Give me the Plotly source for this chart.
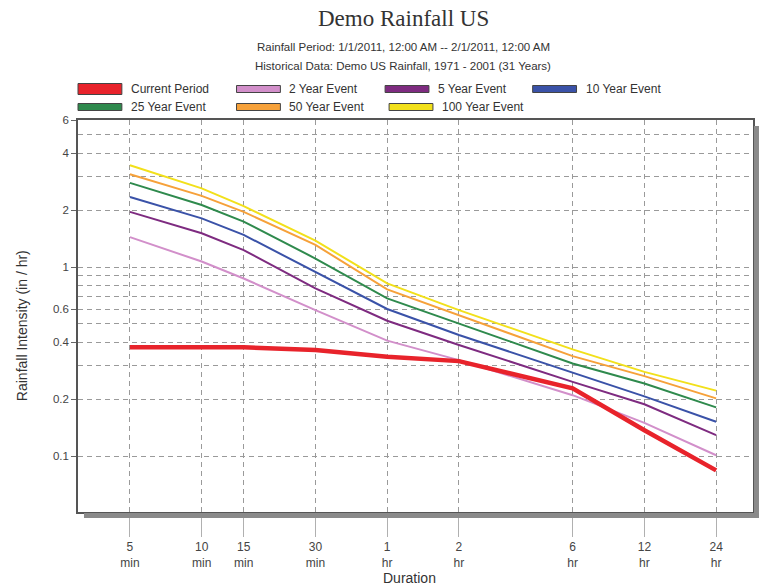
import math
import plotly.graph_objects as go

# ---- data ----
durations_min = [5, 10, 15, 30, 60, 120, 360, 720, 1440]
duration_labels = ["5<br>min", "10<br>min", "15<br>min", "30<br>min", "1<br>hr",
                   "2<br>hr", "6<br>hr", "12<br>hr", "24<br>hr"]

series_names = ["Current Period", "2 Year Event", "5 Year Event", "10 Year Event",
                "25 Year Event", "50 Year Event", "100 Year Event"]

current_period = [0.376, 0.378, 0.376, 0.364, 0.335, 0.318, 0.228, 0.137, 0.084]
year_2 = [1.44, 1.07, 0.87, 0.592, 0.408, 0.322, 0.21, 0.150, 0.101]
year_5 = [1.96, 1.51, 1.23, 0.771, 0.52, 0.387, 0.247, 0.188, 0.129]
year_10 = [2.35, 1.81, 1.48, 0.945, 0.60, 0.437, 0.276, 0.207, 0.152]
year_25 = [2.79, 2.13, 1.74, 1.11, 0.683, 0.503, 0.309, 0.242, 0.181]
year_50 = [3.10, 2.38, 1.96, 1.31, 0.762, 0.557, 0.338, 0.265, 0.202]
year_100 = [3.46, 2.61, 2.10, 1.38, 0.82, 0.592, 0.367, 0.279, 0.222]

y_tick_vals = [0.1, 0.2, 0.4, 0.6, 1, 2, 4, 6]
y_minor_grid = [0.3, 0.5, 0.7, 0.8, 0.9, 3, 5]

# ---- styles ----
colors = ["#E8232B", "#D28FCA", "#7E2B80", "#3A52A8", "#2F8A4D", "#F6A13A", "#F2E01A"]
widths = [4.5, 2, 2, 2, 2, 2, 2]
values = [current_period, year_2, year_5, year_10, year_25, year_50, year_100]

W, H = 765, 585
L, R, T, B = 78, 755, 120, 512


def px_x(p):
    return (p - L) / (R - L)


def px_y(p):
    return (B - p) / (B - T)


fig = go.Figure()
# draw events first, current period on top
for i in list(range(1, 7)) + [0]:
    fig.add_trace(go.Scatter(x=durations_min, y=values[i], mode="lines", name=series_names[i],
                             line=dict(color=colors[i], width=widths[i]), showlegend=False))

grid_col = "#9a9a9a"
fig.update_xaxes(type="log", range=[0.481, 3.313], tickvals=durations_min, ticktext=duration_labels,
                 showgrid=True, gridcolor=grid_col, griddash="5px,4px", gridwidth=1,
                 ticks="outside", ticklen=23, tickcolor="#b0b0b0", tickwidth=1,
                 showline=True, linecolor="#555", linewidth=1.5, mirror=True,
                 tickfont=dict(family="Liberation Sans, Arial", size=12, color="#444"),
                 zeroline=False)
fig.update_yaxes(type="log", range=[math.log10(0.0506), math.log10(6)], tickvals=y_tick_vals,
                 ticktext=[str(v) for v in y_tick_vals],
                 showgrid=True, gridcolor=grid_col, griddash="5px,4px", gridwidth=1,
                 minor=dict(tickvals=y_minor_grid, showgrid=True, gridcolor=grid_col,
                            griddash="5px,4px", gridwidth=1, ticks=""),
                 ticks="outside", ticklen=5, tickcolor="#666",
                 showline=True, linecolor="#555", linewidth=1.5, mirror=True,
                 tickfont=dict(family="Liberation Sans, Arial", size=11.5, color="#444"),
                 zeroline=False)

shapes = []
# drop shadow
shadow = "#8a8a8a"
shapes.append(dict(type="rect", xref="paper", yref="paper", x0=px_x(R + 1), x1=px_x(R + 6),
                   y0=px_y(B + 6), y1=px_y(T + 6), fillcolor=shadow, line=dict(width=0)))
shapes.append(dict(type="rect", xref="paper", yref="paper", x0=px_x(L + 6), x1=px_x(R + 6),
                   y0=px_y(B + 6), y1=px_y(B + 1), fillcolor=shadow, line=dict(width=0)))

annotations = []
# legend (manual swatches)
legend_pos = [(78, 89), (237, 89), (386, 89), (534, 89), (78, 107), (237, 107), (390, 107)]
for i, (lx, ly) in enumerate(legend_pos):
    h = 11 if i == 0 else 7
    shapes.append(dict(type="rect", xref="paper", yref="paper", x0=px_x(lx), x1=px_x(lx + 44),
                       y0=px_y(ly + h / 2), y1=px_y(ly - h / 2), fillcolor=colors[i],
                       line=dict(color="#444", width=1)))
    annotations.append(dict(xref="paper", yref="paper", x=px_x(lx + 51), y=px_y(ly),
                            text=series_names[i], showarrow=False, xanchor="left", yanchor="middle",
                            font=dict(family="Liberation Sans, Arial", size=12, color="#333")))

annotations.append(dict(xref="paper", yref="paper", x=px_x(404), y=px_y(19), text="Demo Rainfall US",
                        showarrow=False, xanchor="center", yanchor="middle",
                        font=dict(family="Liberation Serif, Times New Roman", size=23, color="#333")))
annotations.append(dict(xref="paper", yref="paper", x=px_x(404), y=px_y(47),
                        text="Rainfall Period: 1/1/2011, 12:00 AM -- 2/1/2011, 12:00 AM",
                        showarrow=False, xanchor="center", yanchor="middle",
                        font=dict(family="Liberation Sans, Arial", size=11.5, color="#333")))
annotations.append(dict(xref="paper", yref="paper", x=px_x(404), y=px_y(66),
                        text="Historical Data: Demo US Rainfall, 1971 - 2001 (31 Years)",
                        showarrow=False, xanchor="center", yanchor="middle",
                        font=dict(family="Liberation Sans, Arial", size=11.5, color="#333")))
annotations.append(dict(xref="paper", yref="paper", x=px_x(410), y=px_y(578), text="Duration",
                        showarrow=False, xanchor="center", yanchor="middle",
                        font=dict(family="Liberation Sans, Arial", size=14, color="#333")))
annotations.append(dict(xref="paper", yref="paper", x=px_x(22), y=px_y(326),
                        text="Rainfall Intensity (in / hr)", textangle=-90,
                        showarrow=False, xanchor="center", yanchor="middle",
                        font=dict(family="Liberation Sans, Arial", size=14, color="#333")))

fig.update_layout(width=W, height=H, margin=dict(l=L, r=W - R, t=T, b=H - B),
                  paper_bgcolor="white", plot_bgcolor="white",
                  shapes=shapes, annotations=annotations, showlegend=False)

fig.write_html("out.html", config={"displayModeBar": False},
               post_script="document.body.style.margin='0';document.body.style.overflow='hidden';")
